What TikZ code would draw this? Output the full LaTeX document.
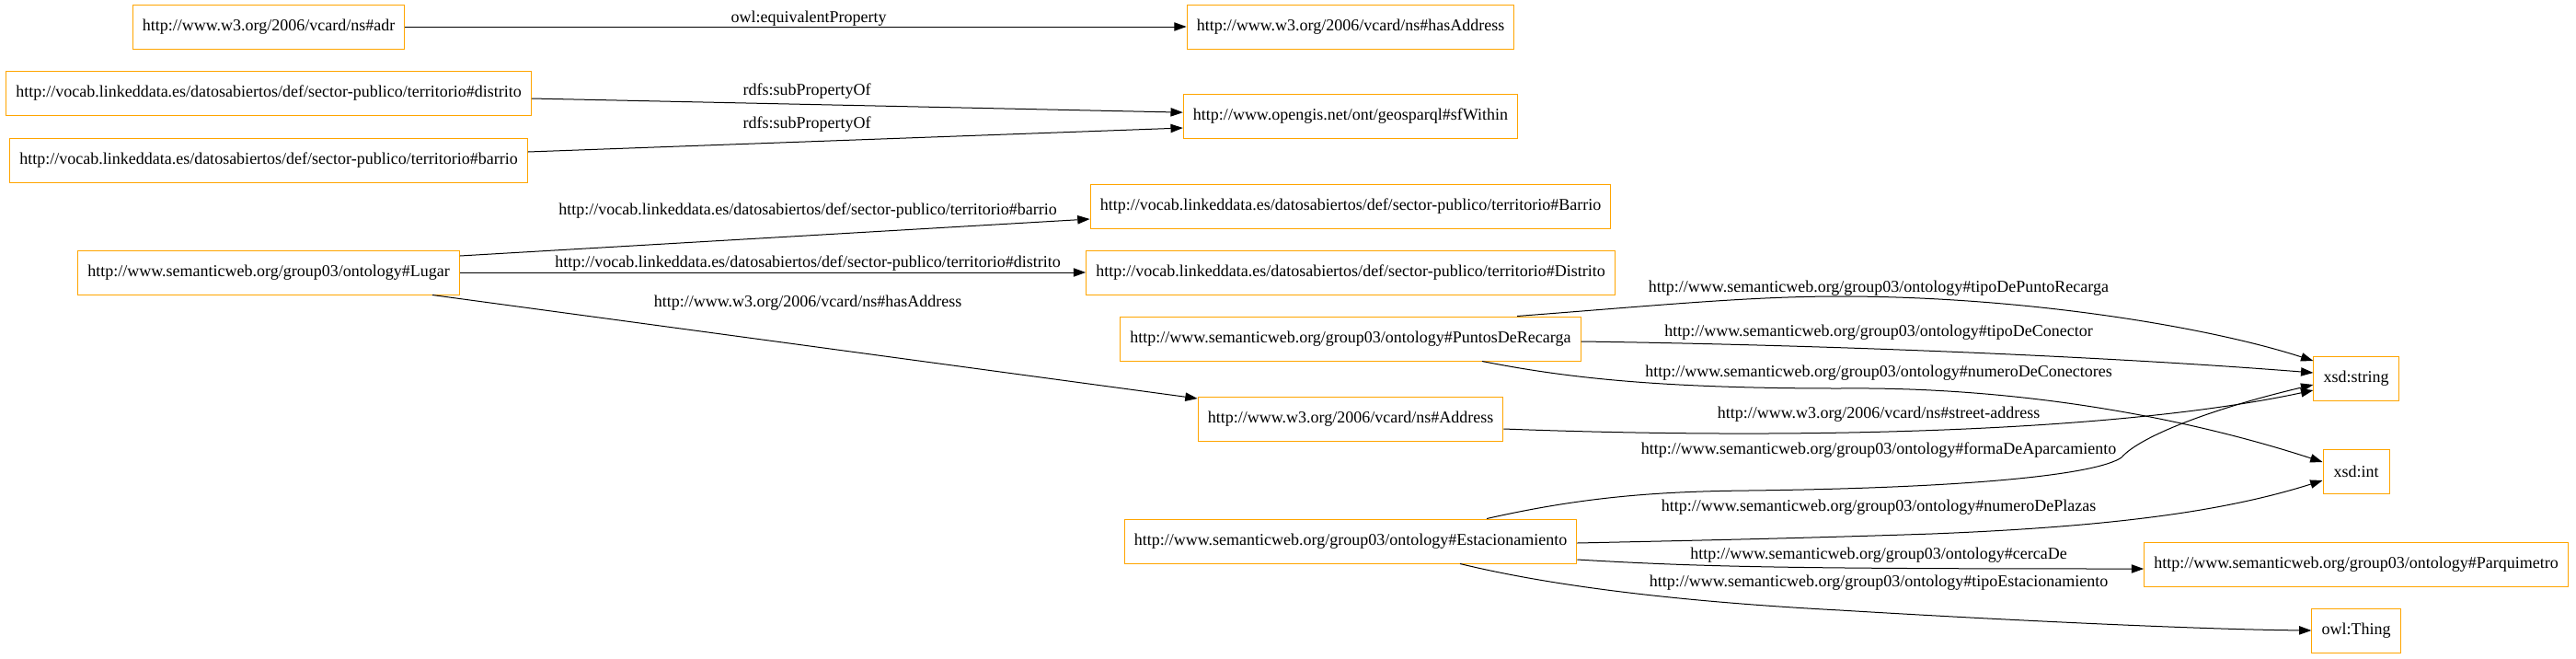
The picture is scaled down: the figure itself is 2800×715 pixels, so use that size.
\documentclass[tikz,border=0pt]{standalone}
\usepackage{fontspec}
\setmainfont{Liberation Serif}
\usepackage{xcolor}
\usetikzlibrary{arrows.meta,calc}
\definecolor{gvorange}{HTML}{FFA500}

\begin{document}
\begin{tikzpicture}[x=0.75pt, y=-0.75pt,
  every node/.style={font=\fontsize{13.5}{16}\selectfont},
  cls/.style={draw=gvorange, line width=0.75pt, inner xsep=8pt, minimum height=36pt, minimum width=54pt},
  lbl/.style={inner sep=0pt},
  rel/.style={draw=black, line width=0.75pt, -{Triangle[length=10pt,width=7pt]}}]
\useasboundingbox (0,0) rectangle (2800,715);
% left column
\node[cls] (adr) at (292,29) {http://www.w3.org/2006/vcard/ns\#adr};
\node[cls] (distrito) at (292,101) {http://vocab.linkeddata.es/datosabiertos/def/sector-publico/territorio\#distrito};
\node[cls] (barrio) at (292,174) {http://vocab.linkeddata.es/datosabiertos/def/sector-publico/territorio\#barrio};
\node[cls] (lugar) at (292,296) {http://www.semanticweb.org/group03/ontology\#Lugar};
% middle column
\node[cls] (hasaddr) at (1468,29) {http://www.w3.org/2006/vcard/ns\#hasAddress};
\node[cls] (within) at (1468,126) {http://www.opengis.net/ont/geosparql\#sfWithin};
\node[cls] (barriocls) at (1468,224) {http://vocab.linkeddata.es/datosabiertos/def/sector-publico/territorio\#Barrio};
\node[cls] (distritocls) at (1468,296) {http://vocab.linkeddata.es/datosabiertos/def/sector-publico/territorio\#Distrito};
\node[cls] (puntos) at (1468,368) {http://www.semanticweb.org/group03/ontology\#PuntosDeRecarga};
\node[cls] (address) at (1468,455) {http://www.w3.org/2006/vcard/ns\#Address};
\node[cls] (estac) at (1468,588) {http://www.semanticweb.org/group03/ontology\#Estacionamiento};
% right column
\node[cls] (string) at (2561,411) {xsd:string};
\node[cls] (int) at (2561,512) {xsd:int};
\node[cls] (parq) at (2561,613) {http://www.semanticweb.org/group03/ontology\#Parquimetro};
\node[cls] (thing) at (2561,685) {owl:Thing};
% edge labels
\node[lbl] (lequiv) at (879,20) {owl:equivalentProperty};
\node[lbl] (lsub1) at (877,99) {rdfs:subPropertyOf};
\node[lbl] (lsub2) at (877,135) {rdfs:subPropertyOf};
\node[lbl] (lbarrio) at (878,229) {http://vocab.linkeddata.es/datosabiertos/def/sector-publico/territorio\#barrio};
\node[lbl] (ldistrito) at (878,286) {http://vocab.linkeddata.es/datosabiertos/def/sector-publico/territorio\#distrito};
\node[lbl] (lhasaddr) at (878,329) {http://www.w3.org/2006/vcard/ns\#hasAddress};
\node[lbl] (lpunto) at (2042,313) {http://www.semanticweb.org/group03/ontology\#tipoDePuntoRecarga};
\node[lbl] (lconector) at (2042,361) {http://www.semanticweb.org/group03/ontology\#tipoDeConector};
\node[lbl] (lnumcon) at (2042,405) {http://www.semanticweb.org/group03/ontology\#numeroDeConectores};
\node[lbl] (lstreet) at (2042,450) {http://www.w3.org/2006/vcard/ns\#street-address};
\node[lbl] (lforma) at (2042,489) {http://www.semanticweb.org/group03/ontology\#formaDeAparcamiento};
\node[lbl] (lplazas) at (2042,551) {http://www.semanticweb.org/group03/ontology\#numeroDePlazas};
\node[lbl] (lcerca) at (2042,603) {http://www.semanticweb.org/group03/ontology\#cercaDe};
\node[lbl] (ltipoest) at (2042,633) {http://www.semanticweb.org/group03/ontology\#tipoEstacionamiento};
% edges
\draw[rel] (adr) -- (hasaddr);
\draw[rel] (distrito) -- (within);
\draw[rel] ($(barrio.east)+(0,-9)$) -- ($(within.west)+(0,13)$);
\draw[rel] ($(lugar.east)+(0,-18)$) -- ($(barriocls.west)+(0,14)$);
\draw[rel] (lugar) -- (distritocls);
\draw[rel] ($(lugar.south)+(178,0)$) -- ($(address.west)+(0,-22)$);
\draw[rel] ($(puntos.north)+(181,0)$) .. controls (1800,332) and (1900,322) .. (2000,322)
  .. controls (2200,322) and (2400,355) .. ($(string.west)+(0,-19)$);
\draw[rel] ($(puntos.east)+(0,3)$) .. controls (2000,375) and (2300,388) .. ($(string.west)+(0,-6)$);
\draw[rel] ($(puntos.south)+(143,0)$) .. controls (1700,410) and (1800,422) .. (2000,422)
  .. controls (2200,420) and (2380,455) .. ($(int.west)+(0,-10)$);
\draw[rel] ($(address.east)+(0,11)$) .. controls (1950,478) and (2300,470) .. ($(string.west)+(0,13)$);
\draw[rel] ($(estac.north)+(148,0)$) .. controls (1720,540) and (1800,534) .. (1900,533)
  .. controls (2150,530) and (2280,515) .. (2306,497)
  .. controls (2325,475) and (2400,445) .. ($(string.west)+(0,7)$);
\draw[rel] ($(estac.east)+(0,2)$) .. controls (1850,587) and (1950,585) .. (2100,580)
  .. controls (2300,572) and (2420,555) .. ($(int.west)+(0,10)$);
\draw[rel] ($(estac.east)+(0,20)$) .. controls (1850,616) and (1950,618) .. ($(parq.west)+(0,5)$);
\draw[rel] ($(estac.south)+(119,0)$) .. controls (1700,640) and (1850,655) .. (2000,663)
  .. controls (2200,675) and (2400,684) .. (thing.west);
\end{tikzpicture}
\end{document}
